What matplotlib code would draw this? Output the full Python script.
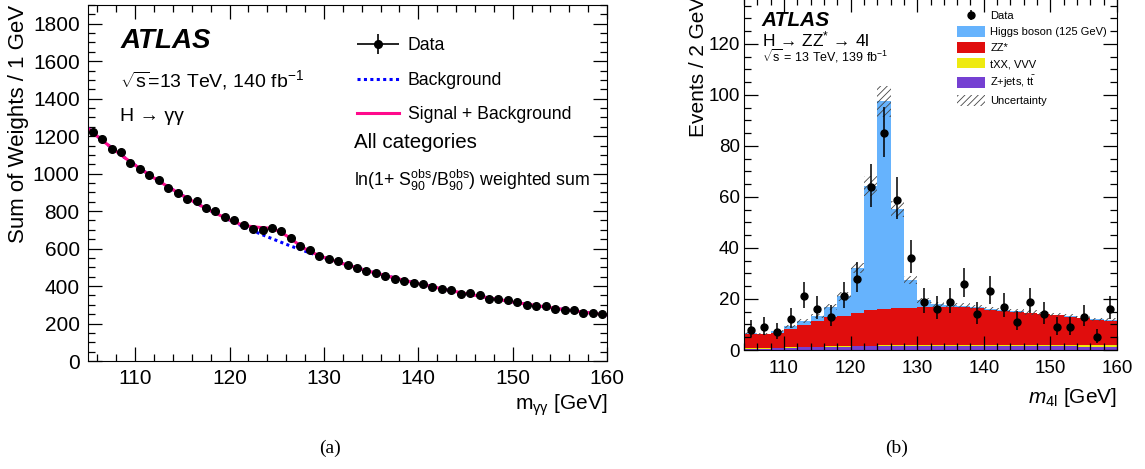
import numpy as np
import matplotlib.pyplot as plt
from matplotlib.patches import Patch
from matplotlib.container import ErrorbarContainer
from matplotlib.legend_handler import HandlerErrorbar
from matplotlib.ticker import MultipleLocator

plt.rcParams['font.family'] = ['Liberation Sans', 'DejaVu Sans']
plt.rcParams['mathtext.fontset'] = 'custom'
plt.rcParams['mathtext.rm'] = 'Liberation Sans'
plt.rcParams['mathtext.it'] = 'Liberation Sans:italic'
plt.rcParams['mathtext.bf'] = 'Liberation Sans:bold'
plt.rcParams['hatch.linewidth'] = 0.6

# ---- (a) H -> yy, weighted sum ----
myy_data = np.arange(105.5, 160, 1.0)
yy_data = [1221, 1184, 1132, 1113, 1059, 1025, 992, 965, 924, 896,
           863, 853, 814, 799, 767, 750, 726, 707, 701, 710,
           694, 657, 616, 593, 561, 545, 534, 513, 497, 482,
           468, 454, 436, 429, 415, 409, 397, 386, 377, 358,
           363, 353, 333, 329, 326, 315, 299, 296, 292, 278,
           272, 274, 255, 256, 251]
myy_fit = np.arange(105, 161, 1.0)
yy_bkg = [1242, 1199, 1158, 1119, 1081, 1045, 1011, 977, 945, 914,
          884, 856, 828, 802, 777, 752, 728, 706, 684, 663,
          643, 623, 604, 586, 569, 552, 536, 520, 505, 490,
          476, 463, 450, 437, 425, 413, 402, 391, 380, 370,
          360, 351, 341, 332, 324, 315, 307, 300, 292, 285,
          278, 271, 264, 258, 252, 246]
yy_sig = [0]*14 + [0.3, 1.2, 4.7, 13.7, 29.7, 47, 55, 47, 29.7, 13.7, 4.7, 1.2, 0.3] + [0]*29

# ---- (b) H -> ZZ* -> 4l ----
m4l_edges = np.arange(104, 161, 2)
m4l_centers = np.arange(105, 160, 2)
n_data = [8, 9, 7, 12, 21, 16, 13, 21, 28, 64, 85, 59, 36, 19,
          16, 19, 26, 14, 23, 17, 11, 19, 14, 9, 9, 13, 5, 16]
err_lo = [2.77, 2.94, 2.58, 3.42, 4.55, 3.96, 3.56, 4.55, 5.27, 7.99, 9.21, 7.67, 5.98, 4.32,
          3.96, 4.32, 5.08, 3.70, 4.77, 4.08, 3.27, 4.32, 3.70, 2.94, 2.94, 3.56, 2.16, 3.96]
err_hi = [3.95, 4.11, 3.77, 4.57, 5.67, 5.10, 4.71, 5.67, 6.36, 9.05, 10.27, 8.73, 7.05, 5.45,
          5.10, 5.45, 6.17, 4.84, 5.88, 5.22, 4.42, 5.45, 4.84, 4.11, 4.11, 4.71, 3.38, 5.10]
zjets = [0.5, 0.5, 0.6, 0.8, 1.0, 1.1, 1.2, 1.3, 1.4, 1.4, 1.5, 1.5, 1.5, 1.5,
         1.5, 1.5, 1.5, 1.5, 1.5, 1.5, 1.5, 1.5, 1.4, 1.4, 1.4, 1.3, 1.3, 1.3]
txx = [0.1, 0.1, 0.1, 0.2, 0.2, 0.2, 0.2, 0.2, 0.3, 0.3, 0.3, 0.3, 0.3, 0.3,
       0.3, 0.3, 0.3, 0.3, 0.4, 0.4, 0.4, 0.4, 0.4, 0.5, 0.5, 0.5, 0.6, 0.6]
zz = [5.5, 5.5, 6.1, 7.3, 8.6, 9.9, 11.5, 11.9, 12.9, 13.8, 14.2, 14.5, 14.8, 14.9,
      15.0, 15.1, 15.0, 14.5, 13.9, 13.5, 12.9, 12.5, 12.2, 11.7, 11.2, 10.6, 9.9, 9.6]
higgs = [0.4, 0.3, 0.5, 1.0, 1.5, 2.3, 4.0, 7.6, 17.6, 48.7, 81.5, 39.1, 10.9, 2.8,
         1.1, 0.7, 0.6, 0.5, 0.4, 0.4, 0.4, 0.3, 0.3, 0.3, 0.3, 0.3, 0.3, 0.3]
unc = [0.4, 0.4, 0.5, 0.6, 0.7, 0.8, 1.1, 1.6, 2.0, 4.0, 6.0, 3.1, 1.5, 1.0,
       0.9, 0.9, 0.9, 0.9, 0.8, 0.8, 0.8, 0.8, 0.7, 0.7, 0.7, 0.7, 0.6, 0.6]

fig = plt.figure(figsize=(11.45, 4.69), dpi=100)

# ================= panel (a) =================
ax = fig.add_axes([88/1145, 108/469, 519/1145, 356/469])
sb = np.array(yy_bkg) + np.array(yy_sig)
ax.plot(myy_fit, yy_bkg, color='#0000ff', lw=2.2, ls=(0, (1, 1.1)), label='Background', zorder=2)
ax.plot(myy_fit, sb, color='#ff0a8c', lw=2.2, label='Signal + Background', zorder=2.2)
ax.plot(myy_data, yy_data, 'o', color='k', ms=5.5, zorder=3)
hdata = ax.errorbar([np.nan], [np.nan], xerr=[1], yerr=[1], fmt='o', color='k', ms=5.5, lw=1.2, label='Data')

ax.set_xlim(105, 160)
ax.set_ylim(0, 1900)
ax.xaxis.set_major_locator(MultipleLocator(10))
ax.xaxis.set_minor_locator(MultipleLocator(2))
ax.yaxis.set_major_locator(MultipleLocator(200))
ax.yaxis.set_minor_locator(MultipleLocator(50))
ax.tick_params(which='both', direction='in', top=True, right=True, labelsize=15, pad=6)
ax.tick_params(which='major', length=10, width=0.9)
ax.tick_params(which='minor', length=5, width=0.9)

h, l = ax.get_legend_handles_labels()
order = [l.index('Data'), l.index('Background'), l.index('Signal + Background')]
ax.legend([h[i] for i in order], [l[i] for i in order], loc='upper left',
          bbox_to_anchor=(0.518, 0.91), frameon=False, fontsize=12.7,
          handlelength=2.4, handletextpad=0.5, labelspacing=1.0,
          borderpad=0, borderaxespad=0,
          handler_map={ErrorbarContainer: HandlerErrorbar(xerr_size=1.2, yerr_size=0.58)})

ax.text(0.062, 0.9, 'ATLAS', transform=ax.transAxes, fontsize=20,
        fontweight='bold', fontstyle='italic', va='center')
ax.text(0.062, 0.79, r'$\sqrt{\mathrm{s}}$=13 TeV, 140 fb$^{\mathrm{-1}}$', transform=ax.transAxes,
        fontsize=14, va='center')
ax.text(0.062, 0.686, 'H → γγ', transform=ax.transAxes, fontsize=14, va='center')
ax.text(0.5125, 0.613, 'All categories', transform=ax.transAxes, fontsize=14.8, va='center')
ax.text(0.5125, 0.508, r'ln(1+ S$_{90}^{\mathrm{obs}}$/B$_{90}^{\mathrm{obs}}$) weighted sum',
        transform=ax.transAxes, fontsize=12.8, va='center')

fig.text(19/1145, 1 - 5/469, 'Sum of Weights / 1 GeV', rotation=90, fontsize=16,
         ha='center', va='top')
fig.text(607/1145, 1 - 405/469, r'm$_{\mathrm{γγ}}$ [GeV]', fontsize=15, ha='right', va='center')

# ================= panel (b) =================
bx = fig.add_axes([744/1145, 119/469, 373/1145, 352/469])
b0 = np.array(zjets)
b1 = b0 + np.array(txx)
b2 = b1 + np.array(zz)
b3 = b2 + np.array(higgs)
bx.stairs(b0, m4l_edges, baseline=0, fill=True, color='#7540d2', lw=0)
bx.stairs(b1, m4l_edges, baseline=b0, fill=True, color='#eeea10', lw=0)
bx.stairs(b2, m4l_edges, baseline=b1, fill=True, color='#e00d0d', lw=0)
bx.stairs(b3, m4l_edges, baseline=b2, fill=True, color='#66b3fd', lw=0)
bx.stairs(b3 + np.array(unc), m4l_edges, baseline=b3 - np.array(unc), fill=True,
          facecolor='none', edgecolor='#444444', hatch='/////', lw=0, zorder=1.5)
hd = bx.errorbar(m4l_centers, n_data, yerr=[err_lo, err_hi], fmt='o', color='k',
                 ms=5, lw=1.1, zorder=3)

bx.set_xlim(104, 160)
bx.set_ylim(0, 138)
bx.xaxis.set_major_locator(MultipleLocator(10))
bx.xaxis.set_minor_locator(MultipleLocator(2))
bx.yaxis.set_major_locator(MultipleLocator(20))
bx.yaxis.set_minor_locator(MultipleLocator(5))
bx.tick_params(which='both', direction='in', top=True, right=True, labelsize=13.5)
bx.tick_params(axis='x', pad=7)
bx.tick_params(axis='y', pad=3)
bx.tick_params(which='major', length=10, width=0.9)
bx.tick_params(which='minor', length=5, width=0.9)

leg_h = [hd,
         Patch(facecolor='#66b3fd', lw=0),
         Patch(facecolor='#e00d0d', lw=0),
         Patch(facecolor='#eeea10', lw=0),
         Patch(facecolor='#7540d2', lw=0),
         Patch(facecolor='white', edgecolor='#444444', hatch='/////', lw=0)]
leg_l = ['Data', 'Higgs boson (125 GeV)', 'ZZ*', 'tXX, VVV', r'Z+jets, t$\bar{\mathrm{t}}$', 'Uncertainty']
bx.legend(leg_h, leg_l, loc='upper left', bbox_to_anchor=(0.572, 0.965), frameon=False,
          fontsize=8, handlelength=2.45, handleheight=1.05, handletextpad=0.5,
          labelspacing=0.45, borderpad=0, borderaxespad=0,
          handler_map={ErrorbarContainer: HandlerErrorbar(xerr_size=0.45, yerr_size=0.45)})

bx.text(0.047, 0.936, 'ATLAS', transform=bx.transAxes, fontsize=15,
        fontweight='bold', fontstyle='italic', va='center')
bx.text(0.047, 0.882, r'H → ZZ$^{*}$ → 4l', transform=bx.transAxes, fontsize=12.5, va='center')
bx.text(0.047, 0.834, r'$\sqrt{\mathrm{s}}$ = 13 TeV, 139 fb$^{\mathrm{-1}}$', transform=bx.transAxes,
        fontsize=9, va='center')

fig.text(698/1145, 1 - 137/469, 'Events / 2 GeV', rotation=90, fontsize=15,
         ha='center', va='bottom')
fig.text(1117/1145, 1 - 397/469, r'$m_{4\mathrm{l}}$ [GeV]', fontsize=15, ha='right', va='center')

# captions
fig.text(330/1145, 1 - 448/469, '(a)', fontsize=14, family='Liberation Serif', ha='center', va='center')
fig.text(897/1145, 1 - 448/469, '(b)', fontsize=14, family='Liberation Serif', ha='center', va='center')

fig.savefig('out.png', dpi=100)
